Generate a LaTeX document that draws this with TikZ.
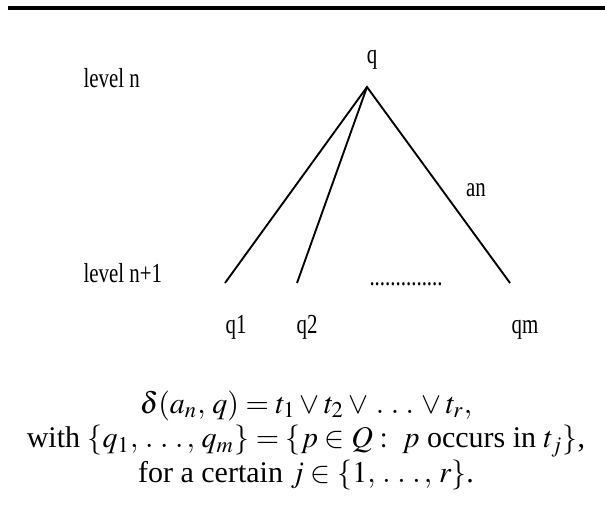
\documentclass[tikz,border=0pt]{standalone}
\usepackage{mathptmx}
\usepackage[no-math]{fontspec}
\setmainfont{Liberation Serif}
\usepackage{graphicx}
\newcommand\cond[1]{\scalebox{0.76}[1]{#1}}
\tikzset{
  lbl/.style={font=\fontsize{11}{12}\selectfont, inner sep=0pt, anchor=base},
  formula/.style={font=\fontsize{12}{13.8}\selectfont, inner sep=0pt, align=center},
  edge/.style={line width=0.75pt},
  rule/.style={line width=1.4pt}
}
\begin{document}
\begin{tikzpicture}[x=0.4pt,y=-0.4pt]
\useasboundingbox (0,0) rectangle (605,520);
\coordinate (rl) at (8,8);
\coordinate (rr) at (605,8);
\draw[rule] (rl) -- (rr);
\coordinate (top) at (367,87);
\coordinate (e1) at (225,283);
\coordinate (e2) at (297,283);
\coordinate (em) at (510,283);
\draw[edge, line join=miter] (e1) -- (top) -- (em);
\draw[edge] (top) -- (e2);
\node[lbl] (q) at (372,63) {\cond{q}};
\node[lbl, anchor=base west] (ln) at (83,87) {\cond{level n}};
\node[lbl, anchor=base west] (ln1) at (83,282) {\cond{level n+1}};
\node[lbl] (an) at (476,196) {\cond{an}};
\node[lbl, anchor=base west] (dots) at (369,285) {\cond{..............}};
\node[lbl] (q1) at (236,333) {\cond{q1}};
\node[lbl] (q2) at (307,333) {\cond{q2}};
\node[lbl] (qm) at (525,333) {\cond{qm}};
\node[formula, anchor=base] (f) at (306,482) {$\delta(a_n,\,q)=t_1\vee t_2\vee\,.\,\,.\,\,.\,\vee t_r,$\\
with $\{q_1,\,.\,\,.\,\,.\,,\,q_m\}=\{p\in Q:\ p$ occurs in $t_j\}$,\\
for a certain $j\in\{1,\,.\,\,.\,\,.\,,\,r\}$.};
\end{tikzpicture}
\end{document}
